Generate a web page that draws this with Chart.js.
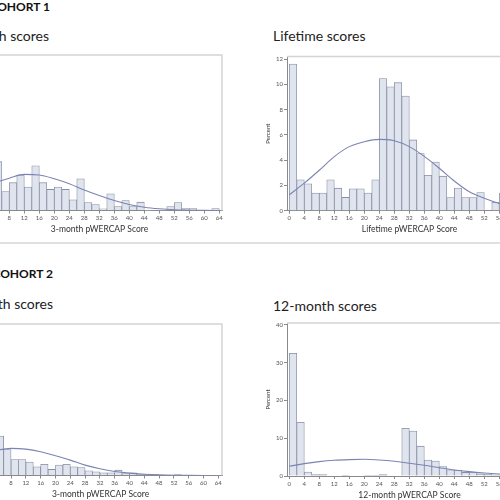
<!DOCTYPE html>
<html><head><meta charset="utf-8">
<script src="https://cdn.jsdelivr.net/npm/chart.js@4.4.1/dist/chart.umd.min.js"></script>
<style>
html,body{margin:0;padding:0;background:#fff;}
#stage{position:relative;width:500px;height:500px;overflow:hidden;background:#fff;font-family:Lato,sans-serif;}
.panel{position:absolute;}
.hdr{position:absolute;font-family:Lato,sans-serif;font-weight:700;font-size:12px;line-height:12px;color:#111;white-space:nowrap;}
.ttl{position:absolute;font-family:Lato,sans-serif;font-size:14px;line-height:14px;color:#222;white-space:nowrap;}
.sep{position:absolute;left:0;width:500px;height:2px;background:#e0e0e0;}
</style></head>
<body><div id="stage">
<div class="hdr" style="right:450px;top:0.5px">COHORT 1</div>
<div class="ttl" style="right:451px;top:28.6px">3-month scores</div>
<div class="ttl" style="left:273px;top:28.6px">Lifetime scores</div>
<div class="sep" style="top:242px"></div>
<div class="hdr" style="right:447px;top:268.4px">COHORT 2</div>
<div class="ttl" style="right:447px;top:297px">3-month scores</div>
<div class="ttl" style="left:273px;top:298.6px">12-month scores</div>
</div>
<script>
// ---- data ----
const xTicks = [0,4,8,12,16,20,24,28,32,36,40,44,48,52,56,60,64];
const binCenters = [1,3,5,7,9,11,13,15,17,19,21,23,25,27,29,31,33,35,37,39,41,43,45,47,49,51,53,55,57,59,61,63];
const curveX = [0,4,8,12,16,20,24,28,32,36,40,44,48,52,56,60,64];

const c1ThreeMonth = [17.0,14.0,7.85,3.06,4.47,5.70,3.76,7.20,4.47,3.39,3.76,3.39,1.72,5.10,1.29,0.97,0.27,2.69,0.65,1.60,0.65,1.34,0.05,0,0.05,0.65,1.29,0.32,0.32,0,0,0.32];
const c1ThreeMonthCurve = [3.6,4.45,5.2,5.8,5.7,5.1,4.3,3.3,2.4,1.6,0.97,0.53,0.27,0.11,0.05,0.02,0.01];
const c1ThreeMonthYTicks = [0,5,10,15,20,25];

const c1Lifetime = [11.6,2.44,2.13,1.39,1.39,2.44,1.78,1.05,1.73,1.73,1.39,2.44,10.45,9.8,10.13,9.07,5.6,4.52,2.8,3.85,2.73,1.04,1.79,1.04,1.04,1.43,0,0.66,1.4,0.7,0.35,0.35];
const c1LifetimeCurve = [1.26,2.18,3.2,4.28,5.07,5.46,5.64,5.54,5.07,4.3,3.36,2.35,1.5,0.98,0.57,0.3,0.15];
const c1LifetimeYTicks = [0,2,4,6,8,10,12];

const c2ThreeMonth = [28,15,9.1,6.0,3.7,3.7,3.1,2.0,2.6,1.4,2.4,2.6,2.0,1.85,1.1,0.85,0.62,0.62,1.23,0.46,0.62,0.3,0.23,0.15,0,0,0.23,0,0,0,0,0];
const c2ThreeMonthCurve = [5.0,5.8,6.26,6.1,5.5,4.56,3.55,2.4,1.55,0.93,0.54,0.3,0.15,0.07,0.03,0.01,0];
const c2ThreeMonthYTicks = [0,5,10,15,20,25,30,35];

const c2TwelveMonth = [32.5,14.2,1.06,0.35,0.35,0,0,0.2,0,0,0.2,0.2,0.35,0,0,12.6,11.9,7.9,4.2,3.95,2.5,1.65,1.5,0.95,0.97,0.55,0.47,0.3,0.27,0.2,0.2,0.1];
const c2TwelveMonthCurve = [2.57,3.27,3.8,4.16,4.34,4.42,4.25,3.9,3.36,2.83,2.2,1.6,1.15,0.8,0.53,0.33,0.2];
const c2TwelveMonthYTicks = [0,10,20,30,40];

// ---- layout / style ----
const Y_W = 27, X_H = 24, PAD_R = 12, PAD_T = 10, PAD_B = 2;
const AXIS = '#8a8a8a', TICKC = '#555', TITLEC = '#333';
const boxPlugin = {id:'box', afterDraw(chart){
  const {ctx, chartArea:a} = chart;
  ctx.save(); ctx.strokeStyle = '#d4d4d4'; ctx.lineWidth = 1.5;
  ctx.beginPath(); ctx.moveTo(a.left, a.top); ctx.lineTo(a.right, a.top); ctx.lineTo(a.right, a.bottom); ctx.stroke();
  ctx.restore();
}};

function makePanel(p){
  const left = Math.floor(p.plotLeft - Y_W - 2);
  const padL = p.plotLeft - Y_W - left;
  const top = Math.floor(p.plotTop - PAD_T);
  const padT = p.plotTop - top;
  const w = Math.ceil(p.plotRight + PAD_R - left);
  const padR = left + w - p.plotRight;
  const h = Math.ceil(p.plotBottom + X_H + PAD_B - top);
  const padB = top + h - p.plotBottom - X_H;
  const wrap = document.createElement('div');
  wrap.className = 'panel';
  wrap.style.left = left + 'px'; wrap.style.top = top + 'px';
  wrap.style.width = w + 'px'; wrap.style.height = h + 'px';
  const cv = document.createElement('canvas');
  cv.width = w; cv.height = h; cv.style.width = w + 'px'; cv.style.height = h + 'px';
  wrap.appendChild(cv);
  document.getElementById('stage').appendChild(wrap);
  new Chart(cv, {
    type: 'bar',
    data: { datasets: [
      { type:'line', data: curveX.map((x,i)=>({x:x, y:p.curve[i]})), borderColor:'#7a84b2', borderWidth:1.1,
        pointRadius:0, cubicInterpolationMode:'monotone', fill:false, order:0 },
      { type:'bar', data: binCenters.map((x,i)=>({x:x, y:p.bars[i]})), backgroundColor:'#e0e4ef',
        borderColor:'#878ea3', borderWidth:0.8, barPercentage:1, categoryPercentage:1, order:1 }
    ]},
    options: {
      responsive:false, devicePixelRatio:1, animation:false, events:[],
      layout:{ padding:{ left:padL, top:padT, right:padR, bottom:padB } },
      plugins:{ legend:{display:false}, tooltip:{enabled:false} },
      scales:{
        x:{ type:'linear', min:p.xMin, max:p.xMax, offset:false,
          afterBuildTicks: s => { s.ticks = xTicks.map(v=>({value:v})); },
          afterFit: s => { s.height = X_H; },
          grid:{ drawOnChartArea:false, offset:false, tickLength:3, color:AXIS },
          border:{ color:AXIS, width:1 },
          ticks:{ font:{family:'Lato', size:6}, color:TICKC, padding:1, maxRotation:0, autoSkip:false },
          title:{ display:true, text:p.xTitle, font:{family:'Lato', size:8.5}, color:TITLEC, padding:{top:0,bottom:0} } },
        y:{ min:0, max:p.yMax,
          afterBuildTicks: s => { s.ticks = p.yTicks.map(v=>({value:v})); },
          afterFit: s => { s.width = Y_W; },
          grid:{ drawOnChartArea:false, tickLength:3, color:AXIS },
          border:{ color:AXIS, width:1 },
          ticks:{ font:{family:'Lato', size:6}, color:TICKC, padding:1 },
          title:{ display:true, text:'Percent', font:{family:'Lato', size:6}, color:TITLEC, padding:{top:4.4,bottom:0} } }
      }
    },
    plugins:[boxPlugin]
  });
}

makePanel({ plotLeft:-23, plotRight:222, plotTop:55, plotBottom:210.5, xMin:-0.61, xMax:64.72, yMax:25,
  yTicks:c1ThreeMonthYTicks, bars:c1ThreeMonth, curve:c1ThreeMonthCurve, xTitle:'3-month pWERCAP Score' });
makePanel({ plotLeft:287, plotRight:532, plotTop:56.5, plotBottom:210.7, xMin:-0.61, xMax:64.72, yMax:12.2,
  yTicks:c1LifetimeYTicks, bars:c1Lifetime, curve:c1LifetimeCurve, xTitle:'Lifetime pWERCAP Score' });
makePanel({ plotLeft:-20.8, plotRight:222, plotTop:324, plotBottom:475.5, xMin:-0.61, xMax:65, yMax:35,
  yTicks:c2ThreeMonthYTicks, bars:c2ThreeMonth, curve:c2ThreeMonthCurve, xTitle:'3-month pWERCAP Score' });
makePanel({ plotLeft:287, plotRight:532, plotTop:323, plotBottom:476, xMin:-0.61, xMax:64.72, yMax:40.5,
  yTicks:c2TwelveMonthYTicks, bars:c2TwelveMonth, curve:c2TwelveMonthCurve, xTitle:'12-month pWERCAP Score' });
</script>
</body></html>
